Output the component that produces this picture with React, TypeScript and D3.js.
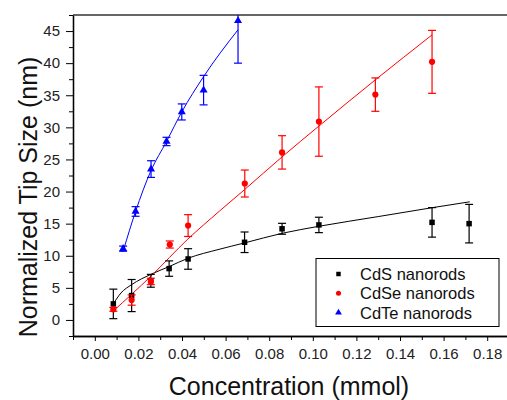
import { useEffect, useRef } from 'react'
import * as d3 from 'd3'

// CdS nanorods (black squares)
const cdsX = [0.0085, 0.0169, 0.0257, 0.0341, 0.0428, 0.0687, 0.0859, 0.1028, 0.1547, 0.1717]
const cdsY = [2.5, 3.8, 6.1, 8.0, 9.5, 12.1, 14.2, 14.8, 15.2, 15.0]
const cdsErr = [2.3, 2.5, 1.0, 1.2, 1.6, 1.6, 0.85, 1.2, 2.3, 3.0]
// CdSe nanorods (red circles)
const cdseX = [0.0085, 0.0169, 0.0257, 0.0344, 0.0428, 0.0688, 0.0859, 0.1028, 0.1287, 0.1547]
const cdseY = [1.65, 3.1, 6.0, 11.75, 14.7, 21.25, 26.1, 30.9, 35.1, 40.2]
const cdseErr = [0.3, 0.8, 0.5, 0.55, 1.7, 2.1, 2.6, 5.4, 2.6, 4.9]
// CdTe nanorods (blue triangles)
const cdteX = [0.013, 0.0187, 0.0258, 0.0329, 0.0399, 0.0499, 0.0657]
const cdteY = [11.1, 16.9, 23.5, 27.8, 32.4, 35.8, 46.6]
const cdteErr = [0.4, 0.75, 1.3, 0.65, 1.25, 2.3, 6.6]

// fitted curves
const cdsFitX = [0.0085, 0.012, 0.0169, 0.0257, 0.034, 0.0427, 0.057, 0.0687, 0.086, 0.103, 0.13, 0.155, 0.172]
const cdsFitY = [2.5, 4.2, 5.5, 7.1, 8.3, 9.6, 11.0, 12.0, 13.5, 14.6, 16.1, 17.5, 18.4]
const cdseFitX = [0.0085, 0.0257, 0.0427, 0.057, 0.0687, 0.0859, 0.1028, 0.1287, 0.1547]
const cdseFitY = [1.4, 6.8, 12.6, 16.9, 20.3, 25.4, 30.2, 37.4, 44.4]
const cdteFitX = [0.013, 0.0187, 0.0257, 0.0329, 0.0399, 0.0499, 0.0657]
const cdteFitY = [10.7, 16.9, 23.2, 27.8, 32.4, 37.9, 45.2]

const seriesNames = ['CdS nanorods', 'CdSe nanorods', 'CdTe nanorods']
const xMajorTicks = [0, 0.02, 0.04, 0.06, 0.08, 0.1, 0.12, 0.14, 0.16, 0.18]
const xMinorTicks = [-0.01, 0.01, 0.03, 0.05, 0.07, 0.09, 0.11, 0.13, 0.15, 0.17]
const yMajorTicks = [0, 5, 10, 15, 20, 25, 30, 35, 40, 45]
const yMinorTicks = [-2.5, 2.5, 7.5, 12.5, 17.5, 22.5, 27.5, 32.5, 37.5, 42.5, 47.5]

const width = 507
const height = 400
const FONT = 'Liberation Sans, Arial, sans-serif'

const App = () => {
  const svgRef = useRef<SVGSVGElement | null>(null)

  useEffect(() => {
    const left = 73
    const top = 15
    const bottom = 336
    const x = d3.scaleLinear([-0.01, 0.19], [left, 509])
    const y = d3.scaleLinear([-2.5, 47.5], [bottom, top])

    const svg = d3.select(svgRef.current)
    svg.selectAll('*').remove()

    svg
      .append('defs')
      .append('clipPath')
      .attr('id', 'plotClip')
      .append('rect')
      .attr('x', left)
      .attr('y', top)
      .attr('width', width - left)
      .attr('height', bottom - top)

    // axes
    const styleAxis = (g: any) => {
      g.select('.domain').attr('stroke', '#000').attr('stroke-width', 1.3)
      g.selectAll('.tick line').attr('stroke', '#000')
      g.selectAll('.tick text')
        .attr('fill', '#222')
        .style('font-family', FONT)
        .style('font-size', '15px')
    }
    svg
      .append('g')
      .attr('transform', `translate(0,${bottom})`)
      .call(d3.axisBottom(x).tickValues(xMinorTicks).tickSize(4).tickSizeOuter(0).tickFormat(() => ''))
      .call(styleAxis)
    svg
      .append('g')
      .attr('transform', `translate(0,${bottom})`)
      .call(d3.axisBottom(x).tickValues(xMajorTicks).tickSize(5).tickPadding(7).tickSizeOuter(0).tickFormat(d3.format('.2f')))
      .call(styleAxis)
    svg
      .append('g')
      .attr('transform', `translate(${left},0)`)
      .call(d3.axisLeft(y).tickValues(yMinorTicks).tickSize(4).tickSizeOuter(0).tickFormat(() => ''))
      .call(styleAxis)
    svg
      .append('g')
      .attr('transform', `translate(${left},0)`)
      .call(d3.axisLeft(y).tickValues(yMajorTicks).tickSize(7).tickPadding(6).tickSizeOuter(0).tickFormat(d3.format('d')))
      .call(styleAxis)
    // top frame
    svg
      .append('line')
      .attr('x1', left)
      .attr('x2', width)
      .attr('y1', top)
      .attr('y2', top)
      .attr('stroke', '#333')
      .attr('stroke-width', 1.6)

    // axis titles
    svg
      .append('text')
      .attr('x', 289)
      .attr('y', 395)
      .attr('text-anchor', 'middle')
      .style('font-family', FONT)
      .style('font-size', '25px')
      .attr('fill', '#111')
      .text('Concentration (mmol)')
    svg
      .append('text')
      .attr('transform', 'translate(37,197) rotate(-90)')
      .attr('text-anchor', 'middle')
      .style('font-family', FONT)
      .style('font-size', '25px')
      .attr('fill', '#111')
      .text('Normalized Tip Size (nm)')

    const plot = svg.append('g').attr('clip-path', 'url(#plotClip)')

    const line = d3
      .line<[number, number]>()
      .x((d) => x(d[0]))
      .y((d) => y(d[1]))
      .curve(d3.curveMonotoneX)

    const series = [
      { xs: cdsX, ys: cdsY, err: cdsErr, fx: cdsFitX, fy: cdsFitY, color: '#000000', symbol: d3.symbolSquare, size: 30 },
      { xs: cdseX, ys: cdseY, err: cdseErr, fx: cdseFitX, fy: cdseFitY, color: '#ff0000', symbol: d3.symbolCircle, size: 30 },
      { xs: cdteX, ys: cdteY, err: cdteErr, fx: cdteFitX, fy: cdteFitY, color: '#0000ff', symbol: d3.symbolTriangle, size: 28 },
    ]

    // fit lines
    series.forEach((s) => {
      plot
        .append('path')
        .datum(s.fx.map((v, i) => [v, s.fy[i]] as [number, number]))
        .attr('fill', 'none')
        .attr('stroke', s.color)
        .attr('stroke-width', 1)
        .attr('d', line)
    })

    // error bars and markers
    series.forEach((s) => {
      const g = plot.append('g').attr('stroke', s.color).attr('stroke-width', 1.2)
      const idx = d3.range(s.xs.length)
      g.selectAll('line.v')
        .data(idx)
        .join('line')
        .attr('x1', (i) => x(s.xs[i]))
        .attr('x2', (i) => x(s.xs[i]))
        .attr('y1', (i) => y(s.ys[i] - s.err[i]))
        .attr('y2', (i) => y(s.ys[i] + s.err[i]))
      ;[-1, 1].forEach((sign) => {
        g.append('g')
          .selectAll('line')
          .data(idx)
          .join('line')
          .attr('x1', (i) => x(s.xs[i]) - 4)
          .attr('x2', (i) => x(s.xs[i]) + 4)
          .attr('y1', (i) => y(s.ys[i] + sign * s.err[i]))
          .attr('y2', (i) => y(s.ys[i] + sign * s.err[i]))
      })
      plot
        .append('g')
        .selectAll('path')
        .data(idx)
        .join('path')
        .attr('transform', (i) => `translate(${x(s.xs[i])},${y(s.ys[i])})`)
        .attr('d', d3.symbol(s.symbol, s.size)())
        .attr('fill', s.color)
    })

    // legend
    const legend = svg.append('g')
    legend
      .append('rect')
      .attr('x', 316)
      .attr('y', 258.5)
      .attr('width', 183)
      .attr('height', 68)
      .attr('fill', '#fff')
      .attr('stroke', '#000')
      .attr('stroke-width', 1)
    series.forEach((s, i) => {
      const cy = 274 + i * 19.3
      legend
        .append('path')
        .attr('transform', `translate(338.5,${cy})`)
        .attr('d', d3.symbol(s.symbol, 20)())
        .attr('fill', s.color)
      legend
        .append('text')
        .attr('x', 360)
        .attr('y', cy + 6)
        .style('font-family', FONT)
        .style('font-size', '16.5px')
        .attr('fill', '#111')
        .text(seriesNames[i])
    })
  }, [])

  return (
    <svg
      ref={svgRef}
      width={width}
      height={height}
      style={{ position: 'absolute', left: 0, top: 0, background: '#fff' }}
    />
  )
}

export default App
